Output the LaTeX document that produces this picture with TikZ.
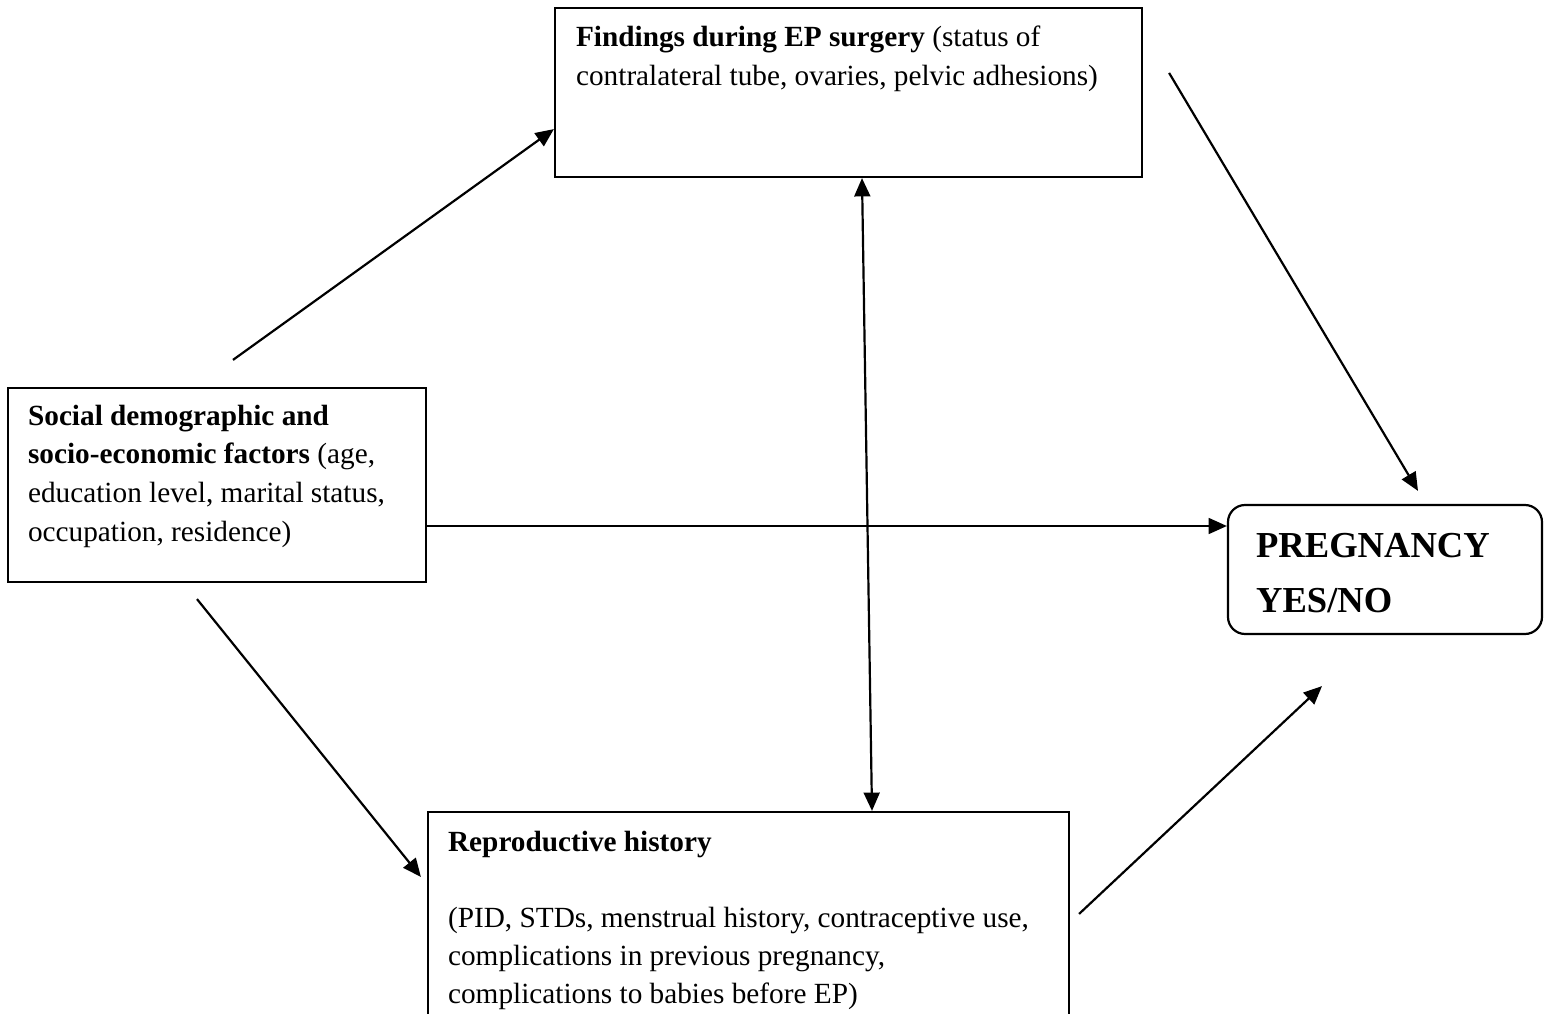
\documentclass[tikz,border=0pt]{standalone}
\usepackage{fontspec}
\setmainfont{Liberation Serif}
\usetikzlibrary{arrows.meta,calc,fit}
\begin{document}
\begin{tikzpicture}[x=0.41pt, y=-0.41pt, line width=0.9pt,
	box/.style = {draw, rectangle, inner sep=0pt},
	txt/.style = {anchor=north west, align=left, inner sep=0pt},
	arr/.style = {-{Triangle[length=7.5pt,width=6.5pt]}}]
		\useasboundingbox (0,0) rectangle (1546,1014);
		\node[box, fit={(8,388) (426,582)}] (soc) {};
		\node[box, fit={(555,8) (1142,177)}] (find) {};
		\node[box, fit={(428,812) (1069,1030)}] (repro) {};
		\node[box, rounded corners=7pt, fit={(1228,505) (1542,634)}] (preg) {};
		\node[txt, font=\fontsize{12}{15.8}\selectfont] (soctxt) at (27,404)
			{\textbf{Social demographic and}\\ \textbf{socio-economic factors} (age,\\ education level, marital status,\\ occupation, residence)};
		\node[txt, font=\fontsize{12}{16}\selectfont] (findtxt) at (575,25)
			{\textbf{Findings during EP surgery} (status of\\ contralateral tube, ovaries, pelvic adhesions)};
		\node[txt, font=\fontsize{12}{15.4}\selectfont] (reprotxt) at (447,830)
			{\textbf{Reproductive history}\\[16pt] (PID, STDs, menstrual history, contraceptive use,\\ complications in previous pregnancy,\\ complications to babies before EP)};
		\node[txt, font=\fontsize{15}{22.5}\selectfont\bfseries] (pregtxt) at (1255,532)
			{PREGNANCY\\ YES/NO};
		\draw[arr] ($(soc.north)+(16,-27)$) -- ($(find.south west)+(0,-49)$);
		\draw[arr] ($(find.north east)+(26,66)$) -- ($(preg.north)+(33,-13)$);
		\draw[arr] ($(soc.east)+(0,41)$) coordinate (h) -- (h -| preg.west);
		\draw[arr] ($(soc.south)+(-20,16)$) -- ($(repro.north west)+(-6,66)$);
		\draw[arr] ($(repro.north east)+(9,103)$) -- ($(preg.south)+(-63,51)$);
		\draw[{Triangle[length=7.5pt,width=6.5pt]}-{Triangle[length=7.5pt,width=6.5pt]}] ($(find.south)+(13.5,0)$) -- ($(repro.north)+(123.5,0)$);
	\end{tikzpicture}
\end{document}
